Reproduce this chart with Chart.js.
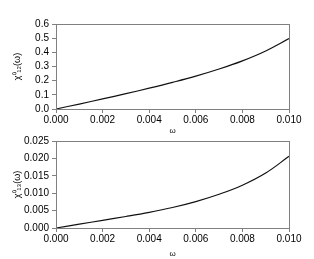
<!DOCTYPE html>
<html>
<head>
<meta charset="utf-8">
<script src="https://cdn.jsdelivr.net/npm/chart.js@4.4.1/dist/chart.umd.min.js"></script>
<style>
  body { margin: 0; background: #fff; }
  #wrap { position: relative; width: 314px; height: 259px; }
  .box { position: absolute; left: 0; width: 314px; }
</style>
</head>
<body>
<div id="wrap">
  <div class="box" style="top:0;height:136px"><canvas id="chart12"></canvas></div>
  <div class="box" style="top:130px;height:129px"><canvas id="chart13"></canvas></div>
</div>
<script>
// omega values (x) shared by both panels
const omega = [0, 0.001, 0.002, 0.003, 0.004, 0.005, 0.006, 0.007, 0.008, 0.009, 0.010];
// chi^0_12(omega)
const chi12 = [0, 0.035, 0.071, 0.108, 0.147, 0.188, 0.232, 0.282, 0.340, 0.410, 0.497];
// chi^0_13(omega)
const chi13 = [0, 0.0011, 0.0022, 0.0033, 0.0045, 0.0059, 0.0076, 0.0097, 0.0123, 0.0158, 0.0206];

const xTicks = [0, 0.002, 0.004, 0.006, 0.008, 0.010];

const FONT = 'Liberation Sans, Arial, sans-serif';
const GRAY = '#808080';

// draws the gray frame round the plot area
const frame = {
  id: 'frame',
  afterDraw(chart) {
    const a = chart.chartArea, c = chart.ctx;
    c.save();
    c.strokeStyle = GRAY;
    c.lineWidth = 1;
    c.strokeRect(Math.round(a.left) + 0.5, Math.round(a.top) + 0.5,
                 Math.round(a.right - a.left), Math.round(a.bottom - a.top));
    c.restore();
  }
};

function makeChart(id, ys, yMax, yStep, yDigits, yTitle, padTop, xHeight) {
  const ctx = document.getElementById(id).getContext('2d');
  return new Chart(ctx, {
    type: 'line',
    data: {
      datasets: [{
        data: omega.map((x, i) => ({ x: x, y: ys[i] })),
        borderColor: '#111',
        borderWidth: 1.2,
        pointRadius: 0,
        tension: 0.4,
        fill: false
      }]
    },
    plugins: [frame],
    options: {
      responsive: true,
      maintainAspectRatio: false,
      animation: false,
      layout: { padding: { left: 0, right: 25, top: padTop, bottom: 0 } },
      plugins: { legend: { display: false }, tooltip: { enabled: false } },
      scales: {
        x: {
          type: 'linear',
          min: 0, max: 0.010,
          afterBuildTicks: (s) => { s.ticks = xTicks.map(v => ({ value: v })); },
          afterFit: (s) => { s.height = xHeight; },
          grid: { drawOnChartArea: false, drawTicks: true, tickLength: 4, color: GRAY },
          border: { color: GRAY },
          ticks: {
            color: '#000', padding: 1, maxRotation: 0, autoSkip: false,
            font: { family: FONT, size: 10 },
            callback: (v) => v.toFixed(3)
          },
          title: {
            display: true, text: 'ω', color: '#000',
            font: { family: FONT, size: 8 }, padding: { top: 1, bottom: 0 }
          }
        },
        y: {
          min: 0, max: yMax,
          afterFit: (s) => { s.width = 56; },
          grid: { drawOnChartArea: false, drawTicks: true, tickLength: 4, color: GRAY },
          border: { color: GRAY },
          ticks: {
            color: '#000', padding: 3, stepSize: yStep, autoSkip: false,
            font: { family: FONT, size: 10 },
            callback: (v) => v.toFixed(yDigits)
          },
          title: {
            display: true, text: yTitle, color: '#000',
            font: { family: FONT, size: 9 }, padding: { top: 12, bottom: 2 }
          }
        }
      }
    }
  });
}

makeChart('chart12', chi12, 0.6, 0.1, 1, 'χ⁰₁₂(ω)', 24, 27);
makeChart('chart13', chi13, 0.025, 0.005, 3, 'χ⁰₁₃(ω)', 11, 31);
</script>
</body>
</html>
